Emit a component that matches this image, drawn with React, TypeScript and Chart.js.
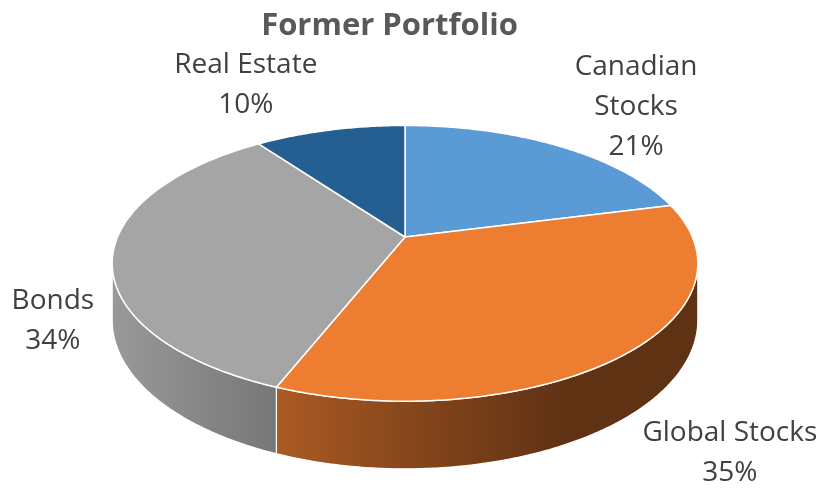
import React, { useEffect, useRef } from "react";
import { Chart, registerables } from "chart.js";

Chart.register(...registerables);

// ---- data ----
const categories = ["Canadian Stocks", "Global Stocks", "Bonds", "Real Estate"];
const categoryLines = [["Canadian", "Stocks"], ["Global Stocks"], ["Bonds"], ["Real Estate"]];
const shares = [21, 35, 34, 10];
const sliceColors = ["#5B9BD5", "#ED7D31", "#A5A5A5", "#255E91"];
const chartTitle = "Former Portfolio";

function hexToRgb(h: string) {
  const n = parseInt(h.slice(1), 16);
  return [(n >> 16) & 255, (n >> 8) & 255, n & 255];
}
function shade(h: string, f: number) {
  const [r, g, b] = hexToRgb(h);
  return `rgb(${Math.round(r * f)},${Math.round(g * f)},${Math.round(b * f)})`;
}

const pie3d = {
  id: "pie3d",
  _geom(chart: any, opts: any) {
    const arcs = chart.getDatasetMeta(0).data as any[];
    const first = arcs[0];
    const R = first.outerRadius;
    const cx = first.x + opts.shiftX;
    const cy = first.y;
    const a = R * opts.ax;
    const b = R * opts.by;
    const c = opts.persp;
    const D = R * opts.depth;
    const proj = (ang: number) => {
      const u = Math.cos(ang);
      const v = Math.sin(ang);
      const w = 1 + c * v;
      return { x: cx + (a * u) / w, y: cy + (b * v) / w, d: D / w };
    };
    return { arcs, cx, cy, proj, c };
  },
  beforeDatasetsDraw(chart: any, _args: any, opts: any) {
    const meta = chart.getDatasetMeta(0);
    if (!meta.data.length) return false;
    const { arcs, cx, cy, proj, c } = (pie3d as any)._geom(chart, opts);
    const ctx = chart.ctx as CanvasRenderingContext2D;
    const colors = chart.data.datasets[0].backgroundColor as string[];
    const s0 = Math.asin(-c);
    const s1 = Math.PI - s0;
    const xL = proj(s1).x;
    const xR = proj(s0).x;
    const step = 0.01;

    ctx.save();
    ctx.lineJoin = "round";
    // sides
    arcs.forEach((arc: any, i: number) => {
      for (const off of [0, 2 * Math.PI, -2 * Math.PI]) {
        const s = Math.max(arc.startAngle + off, s0);
        const e = Math.min(arc.endAngle + off, s1);
        if (e <= s) continue;
        ctx.beginPath();
        const pts: any[] = [];
        for (let t = s; t < e; t += step) pts.push(proj(t));
        pts.push(proj(e));
        pts.forEach((p, k) => (k ? ctx.lineTo(p.x, p.y) : ctx.moveTo(p.x, p.y)));
        for (let k = pts.length - 1; k >= 0; k--) ctx.lineTo(pts[k].x, pts[k].y + pts[k].d);
        ctx.closePath();
        const g = ctx.createLinearGradient(xL, 0, xR, 0);
        (opts.sideShade as number[][]).forEach(([pos, f]) => g.addColorStop(pos, shade(colors[i], f)));
        ctx.fillStyle = g;
        ctx.fill();
        ctx.strokeStyle = "#ffffff";
        ctx.lineWidth = 1.2;
        ctx.stroke();
      }
    });
    // tops
    arcs.forEach((arc: any, i: number) => {
      ctx.beginPath();
      ctx.moveTo(cx, cy);
      for (let t = arc.startAngle; t < arc.endAngle; t += step) {
        const p = proj(t);
        ctx.lineTo(p.x, p.y);
      }
      const pe = proj(arc.endAngle);
      ctx.lineTo(pe.x, pe.y);
      ctx.closePath();
      ctx.fillStyle = colors[i];
      ctx.fill();
      ctx.strokeStyle = "#ffffff";
      ctx.lineWidth = 1.5;
      ctx.stroke();
    });
    ctx.restore();
    return false;
  },
  afterDraw(chart: any, _args: any, opts: any) {
    const meta = chart.getDatasetMeta(0);
    if (!meta.data.length) return;
    const { arcs, proj } = (pie3d as any)._geom(chart, opts);
    const ctx = chart.ctx as CanvasRenderingContext2D;
    const vals = chart.data.datasets[0].data as number[];
    const total = vals.reduce((s: number, v: number) => s + v, 0);
    ctx.save();
    ctx.fillStyle = opts.labelColor;
    ctx.font = opts.labelFont;
    ctx.textAlign = "center";
    ctx.textBaseline = "middle";
    arcs.forEach((arc: any, i: number) => {
      const mid = (arc.startAngle + arc.endAngle) / 2;
      const p = proj(mid);
      const [dx, dy] = opts.labelOffsets[i];
      const lines = [...categoryLines[i], `${Math.round((vals[i] / total) * 100)}%`];
      const lh = opts.lineHeight;
      const x = p.x + dx;
      const y0 = p.y + dy - ((lines.length - 1) * lh) / 2;
      lines.forEach((ln, k) => ctx.fillText(ln, x, y0 + k * lh));
    });
    ctx.restore();
  },
};

export default function App() {
  const ref = useRef<HTMLCanvasElement | null>(null);
  useEffect(() => {
    document.body.style.margin = "0";
    const chart = new Chart(ref.current as HTMLCanvasElement, {
      type: "pie",
      data: {
        labels: categories,
        datasets: [{ data: shares, backgroundColor: sliceColors, borderColor: "#ffffff", borderWidth: 1.5 }],
      },
      plugins: [pie3d as any],
      options: {
        responsive: false,
        animation: false,
        layout: { padding: { left: 0, right: 47, top: 0, bottom: 66 } },
        plugins: {
          legend: { display: false },
          tooltip: { enabled: false },
          title: {
            display: true,
            text: chartTitle,
            color: "#595959",
            font: { family: "'Open Sans'", size: 31, weight: "bold", lineHeight: 1.2 },
            padding: { top: 8, bottom: 6.8 },
          },
          pie3d: {
            shiftX: 15.5,
            ax: 1.56,
            by: 0.721,
            persp: -0.191,
            depth: 0.297,
            sideShade: [
              [0, 0.93],
              [0.28, 0.72],
              [0.58, 0.52],
              [0.78, 0.4],
              [1, 0.4],
            ],
            labelOffsets: [
              [78, -39],
              [103, 100],
              [-60, 67],
              [-84, -45],
            ],
            lineHeight: 40,
            labelColor: "#404040",
            labelFont: "28px 'Open Sans'",
          },
        } as any,
      },
    });
    return () => chart.destroy();
  }, []);
  return (
    <div style={{ width: 826, height: 488, background: "#ffffff" }}>
      <canvas ref={ref} width={826} height={488} />
    </div>
  );
}
